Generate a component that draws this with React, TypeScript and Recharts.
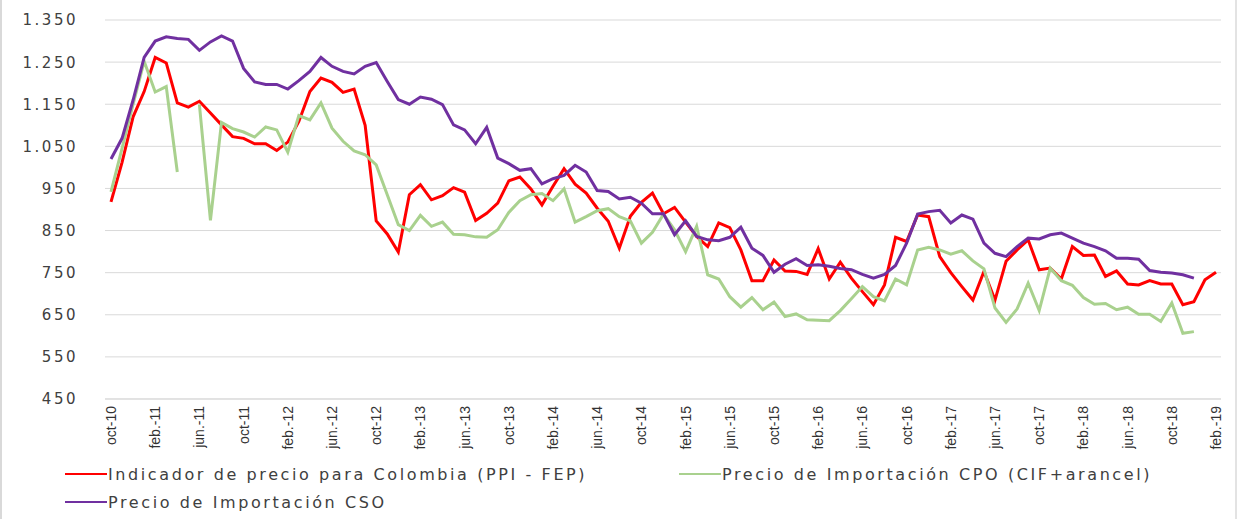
import { LineChart, Line, XAxis, YAxis, CartesianGrid } from 'recharts';

// month labels oct-10 .. feb-19 (101 months)
const MONTHS = ['ene.', 'feb.', 'mar.', 'abr.', 'may.', 'jun.', 'jul.', 'ago.', 'sep.', 'oct', 'nov.', 'dic.'];
const categories: string[] = [];
for (let k = 0; k < 101; k++) {
  const m = (9 + k) % 12;
  const yy = 10 + Math.floor((9 + k) / 12);
  categories.push(`${MONTHS[m]}-${yy}`);
}

const yTicks = [450, 550, 650, 750, 850, 950, 1050, 1150, 1250, 1350];

// Indicador de precio para Colombia (PPI - FEP)
const ppi = [
  918, 1012, 1120, 1180, 1261, 1248, 1153, 1143, 1157, 1129, 1101, 1073, 1069, 1056, 1056, 1040,
  1060, 1109, 1180, 1212, 1202, 1178, 1186, 1100, 873, 842, 799, 935, 959, 923, 933, 952,
  941, 874, 891, 915, 968, 977, 949, 911, 955, 997, 960, 939, 903, 872, 808, 884,
  917, 939, 890, 905, 870, 836, 812, 868, 857, 804, 731, 731, 780, 754, 753, 746,
  807, 735, 775, 737, 705, 674, 721, 834, 824, 887, 883, 788, 750, 717, 685, 753,
  685, 777, 804, 828, 757, 761, 735, 812, 791, 792, 741, 754, 723, 721, 731, 723,
  723, 674, 681, 733, 751,
];

// Precio de Importación CPO (CIF+arancel)
const cpo = [
  942, 1045, 1150, 1252, 1179, 1192, 989, null, 1149, 874, 1107, 1092, 1084, 1072, 1096, 1089,
  1036, 1123, 1113, 1153, 1093, 1062, 1039, 1030, 1006, 935, 864, 850, 886, 860, 870, 841,
  840, 835, 834, 852, 893, 921, 935, 938, 921, 949, 870, 883, 897, 902, 883, 873,
  820, 846, 889, 852, 800, 860, 745, 735, 693, 668, 691, 662, 680, 646, 652, 638,
  637, 636, 660, 688, 717, 693, 683, 735, 721, 804, 810, 804, 794, 802, 778, 759,
  666, 632, 664, 725, 660, 761, 731, 720, 691, 675, 677, 662, 668, 651, 651, 634,
  678, 606, 610, null, null,
];

// Precio de Importación CSO
const cso = [
  1020, 1069, 1160, 1261, 1300, 1310, 1306, 1304, 1278, 1298, 1312, 1300, 1235, 1203, 1197, 1197,
  1186, 1206, 1228, 1261, 1240, 1228, 1222, 1240, 1249, 1204, 1161, 1150, 1167, 1162, 1149, 1101,
  1089, 1056, 1095, 1022, 1009, 993, 997, 961, 973, 981, 1005, 989, 945, 943, 925, 929,
  915, 890, 890, 840, 873, 836, 828, 826, 834, 858, 808, 791, 751, 770, 783, 767,
  769, 765, 760, 757, 746, 737, 746, 767, 820, 889, 895, 898, 868, 887, 877, 820,
  796, 788, 812, 832, 830, 840, 844, 832, 820, 812, 802, 784, 784, 782, 755, 751,
  749, 745, 737, null, null,
];

const RED = '#ff0000';
const GREEN = '#a9d18e';
const PURPLE = '#7030a0';

const fmt = (v: number) =>
  v >= 1000 ? `${Math.floor(v / 1000)}.${String(v % 1000).padStart(3, '0')}` : String(v);

const XTick = (props: any) => {
  const { x, y, payload } = props;
  return (
    <text
      x={x}
      y={y}
      dy="0.36em"
      transform={`rotate(-90 ${x} ${y})`}
      textAnchor="end"
      fill="#333"
      fontSize={14}
      fontFamily="'Liberation Sans Narrow', 'Liberation Sans'"
    >
      {payload.value}
    </text>
  );
};

const YTick = (props: any) => {
  const { x, y, payload } = props;
  return (
    <text
      x={x}
      y={y}
      dy="0.36em"
      textAnchor="end"
      fill="#404040"
      fontSize={15}
      fontFamily="DejaVu Sans"
      letterSpacing={2.5}
    >
      {fmt(payload.value)}
    </text>
  );
};

const legendText = {
  position: 'absolute' as const,
  fontFamily: 'DejaVu Sans',
  fontSize: 16,
  letterSpacing: 2.6,
  color: '#404040',
  lineHeight: '20px',
  whiteSpace: 'nowrap' as const,
};

function LegendItem({ left, top, color, label }: { left: number; top: number; color: string; label: string }) {
  return (
    <>
      <div style={{ position: 'absolute', left, top: top - 1, width: 42, height: 2, background: color }} />
      <div style={{ ...legendText, left: left + 43, top: top - 9 }}>{label}</div>
    </>
  );
}

export default function App() {
  const data = categories.map((c, i) => ({ month: c, ppi: ppi[i], cpo: cpo[i], cso: cso[i] }));
  return (
    <div style={{ position: 'absolute', left: 0, top: 0, width: 1241, height: 519, background: '#fff' }}>
      <LineChart width={1241} height={519} data={data} margin={{ top: 20, right: 20, left: 0, bottom: 0 }}>
        <CartesianGrid vertical={false} stroke="#d9d9d9" />
        <XAxis
          dataKey="month"
          interval={3}
          height={120}
          tickLine={false}
          tickSize={0}
          tickMargin={7}
          axisLine={{ stroke: '#d9d9d9' }}
          padding={{ left: 6, right: 5 }}
          tick={<XTick />}
        />
        <YAxis
          domain={[450, 1350]}
          ticks={yTicks}
          interval={0}
          width={105}
          axisLine={false}
          tickLine={false}
          tickSize={0}
          tickMargin={27}
          tick={<YTick />}
        />
        <Line dataKey="ppi" stroke={RED} strokeWidth={3} dot={false} isAnimationActive={false} />
        <Line dataKey="cpo" stroke={GREEN} strokeWidth={3} dot={false} isAnimationActive={false} />
        <Line dataKey="cso" stroke={PURPLE} strokeWidth={3} dot={false} isAnimationActive={false} />
      </LineChart>
      <LegendItem left={65} top={474} color={RED} label="Indicador de precio para Colombia (PPI - FEP)" />
      <LegendItem left={679} top={474} color={GREEN} label="Precio de Importación CPO (CIF+arancel)" />
      <LegendItem left={65} top={502} color={PURPLE} label="Precio de Importación CSO" />
      <div style={{ position: 'absolute', left: 0, top: 0, width: 2, height: 519, background: '#d9d9d9' }} />
      <div style={{ position: 'absolute', left: 1235, top: 0, width: 2, height: 519, background: '#e3e3e3' }} />
    </div>
  );
}
